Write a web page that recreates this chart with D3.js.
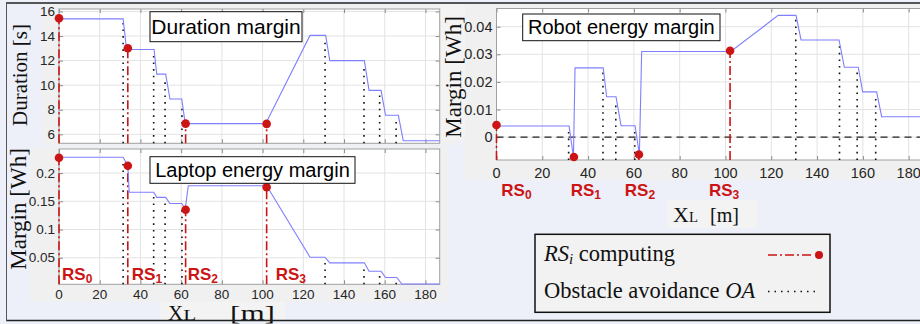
<!DOCTYPE html>
<html>
<head>
<meta charset="utf-8">
<script src="https://cdn.jsdelivr.net/npm/d3@7/dist/d3.min.js"></script>
<style>
  body { margin: 0; background: #edf0f8; }
  svg { display: block; }
</style>
</head>
<body>
<div id="chart"></div>
<script>
// x positions along the path (m)
const xTicks = [0, 20, 40, 60, 80, 100, 120, 140, 160, 180];
const rsX = [0, 33.8, 62.2, 102];
const oaX = [31.5, 46.5, 52.1, 60.4, 130.7, 149.8, 157.5, 165.6];

// duration margin [s]
const durX = [0, 31.5, 33.2, 46.7, 48, 52.4, 54.5, 60.3, 62, 101.5, 123.3, 131, 133, 150, 152.3, 158.2, 160.4, 166.7, 169.1, 187];
const durY = [15.4, 15.4, 12.9, 12.9, 10.9, 10.9, 8.87, 8.87, 6.87, 6.87, 14.05, 14.05, 12.0, 12.0, 9.58, 9.58, 7.55, 7.55, 5.48, 5.48];
const durRs = [15.45, 13.0, 6.87, 6.85];
const durTicks = [6, 8, 10, 12, 14, 16];

// laptop energy margin [Wh]
const lapX = [0, 31.5, 33.8, 34.5, 46.5, 48, 52.4, 54.5, 60.3, 62, 63.5, 102, 123.3, 130.6, 133, 150, 152.3, 158.2, 160.4, 165.9, 168.4, 187];
const lapY = [0.228, 0.228, 0.213, 0.166, 0.166, 0.157, 0.157, 0.146, 0.146, 0.136, 0.1775, 0.1775, 0.051, 0.051, 0.041, 0.041, 0.026, 0.026, 0.015, 0.015, 0.0035, 0.0035];
const lapRs = [0.227, 0.213, 0.135, 0.175];
const lapTicks = [0.05, 0.1, 0.15, 0.2];

// robot energy margin [Wh]
const robX = [0, 31.7, 33.6, 34.3, 46.6, 48.1, 52.2, 54.4, 60.5, 62.4, 63.4, 102.3, 123, 130.8, 133, 149.6, 151.9, 158, 159.9, 166, 168.2, 187];
const robY = [0.004, 0.004, -0.0072, 0.0251, 0.0251, 0.0146, 0.0146, 0.0041, 0.0041, -0.0063, 0.031, 0.031, 0.0441, 0.0441, 0.0352, 0.0352, 0.0253, 0.0253, 0.0164, 0.0164, 0.0074, 0.0074];
const robRs = [0.0044, -0.0072, -0.0063, 0.0313];
const robTicks = [0, 0.01, 0.02, 0.03, 0.04];

const W = 920, H = 324;
const SANS = "'Liberation Sans', Arial, sans-serif";
const SERIF = "'Liberation Serif', 'Times New Roman', serif";
const RED = '#cc1414', BLUE = '#7f7fff';

const svg = d3.select('#chart').append('svg').attr('width', W).attr('height', H);

// figure backgrounds (pasted matlab figures)
svg.append('rect').attr('x', 0).attr('y', 0).attr('width', W).attr('height', H).attr('fill', '#edf0f8');
svg.append('rect').attr('x', 42).attr('y', 4).attr('width', 416).attr('height', 141).attr('fill', '#f0f0f0');
svg.append('rect').attr('x', 30).attr('y', 147).attr('width', 418).attr('height', 155).attr('fill', '#f0f0f0');
svg.append('rect').attr('x', 465).attr('y', 4).attr('width', 455).attr('height', 176).attr('fill', '#f0f0f0');
svg.append('rect').attr('x', 441).attr('y', 4).attr('width', 24).attr('height', 136).attr('fill', '#f3f3f3');
svg.append('rect').attr('x', 667).attr('y', 200).attr('width', 90).attr('height', 28).attr('fill', '#f3f3f3');
svg.append('rect').attr('x', 160).attr('y', 302).attr('width', 125).attr('height', 18).attr('fill', '#f3f3f3');

function interp(xs, ys, x) {
  for (let i = 1; i < xs.length; i++) {
    if (x <= xs[i]) {
      const t = (x - xs[i - 1]) / (xs[i] - xs[i - 1]);
      return ys[i - 1] + t * (ys[i] - ys[i - 1]);
    }
  }
  return ys[ys.length - 1];
}

function drawPanel(p) {
  const x = d3.scaleLinear().domain([0, 187]).range(p.xRange);
  const y = d3.scaleLinear().domain(p.yDomain).range(p.yRange);
  const [x0, x1] = p.xRange, [y0, y1] = p.yRange; // y0 bottom, y1 top
  const g = svg.append('g');

  g.append('rect').attr('x', x0).attr('y', y1).attr('width', x1 - x0).attr('height', y0 - y1).attr('fill', '#fff');

  // grid
  g.selectAll('.gx').data(xTicks).enter().append('line')
    .attr('x1', d => x(d)).attr('x2', d => x(d)).attr('y1', y1).attr('y2', y0)
    .attr('stroke', '#e3e3e3').attr('stroke-width', 1);
  g.selectAll('.gy').data(p.yTicks).enter().append('line')
    .attr('x1', x0).attr('x2', x1).attr('y1', d => y(d)).attr('y2', d => y(d))
    .attr('stroke', '#e3e3e3').attr('stroke-width', 1);

  // inside ticks on all sides
  const tl = 4;
  g.append('g').attr('transform', `translate(0,${y0})`)
    .call(d3.axisTop(x).tickValues(xTicks).tickSize(tl).tickFormat(''))
    .call(a => a.select('.domain').remove());
  g.append('g').attr('transform', `translate(0,${y1})`)
    .call(d3.axisBottom(x).tickValues(xTicks).tickSize(tl).tickFormat(''))
    .call(a => a.select('.domain').remove());
  g.append('g').attr('transform', `translate(${x0},0)`)
    .call(d3.axisRight(y).tickValues(p.yTicks).tickSize(tl).tickFormat(''))
    .call(a => a.select('.domain').remove());
  g.append('g').attr('transform', `translate(${x1},0)`)
    .call(d3.axisLeft(y).tickValues(p.yTicks).tickSize(tl).tickFormat(''))
    .call(a => a.select('.domain').remove());
  g.selectAll('.tick line').attr('stroke', '#8c8c8c');

  g.append('rect').attr('x', x0).attr('y', y1).attr('width', x1 - x0).attr('height', y0 - y1)
    .attr('fill', 'none').attr('stroke', '#a0a0a0').attr('stroke-width', 1);

  // tick labels
  g.selectAll('.yl').data(p.yTicks).enter().append('text')
    .attr('x', x0 - 4).attr('y', d => y(d)).attr('dy', '0.35em')
    .attr('text-anchor', 'end').attr('font-family', SANS).attr('font-size', p.tickFs)
    .attr('fill', '#262626').text(p.yFmt);
  if (p.xLabels) {
    g.selectAll('.xl').data(xTicks).enter().append('text')
      .attr('x', d => x(d)).attr('y', y0 + p.xLabelDy)
      .attr('text-anchor', 'middle').attr('font-family', SANS).attr('font-size', p.tickFs)
      .attr('fill', '#262626').text(d => d);
  }

  if (p.zeroLine) {
    g.append('line').attr('x1', x0).attr('x2', x1).attr('y1', y(0)).attr('y2', y(0))
      .attr('stroke', '#222').attr('stroke-width', 1.3).attr('stroke-dasharray', '7,5');
  }

  // obstacle avoidance lines
  g.selectAll('.oa').data(oaX).enter().append('line')
    .attr('x1', d => x(d)).attr('x2', d => x(d)).attr('y1', y0)
    .attr('y2', d => y(interp(p.xs, p.ys, d)) + 4)
    .attr('stroke', '#111').attr('stroke-width', 1.6).attr('stroke-dasharray', '1.6,5');

  // RS lines
  g.selectAll('.rs').data(rsX).enter().append('line')
    .attr('x1', d => x(d)).attr('x2', d => x(d)).attr('y1', y0)
    .attr('y2', (d, i) => y(p.rs[i]))
    .attr('stroke', RED).attr('stroke-width', 1.6).attr('stroke-dasharray', '9,3,2,3');

  // margin line
  const line = d3.line().x(d => x(d[0])).y(d => y(d[1]));
  g.append('path').datum(p.xs.map((v, i) => [v, p.ys[i]]))
    .attr('d', line).attr('fill', 'none').attr('stroke', BLUE).attr('stroke-width', 1.1);

  g.selectAll('.pt').data(rsX).enter().append('circle')
    .attr('cx', d => x(d)).attr('cy', (d, i) => y(p.rs[i])).attr('r', 4.3)
    .attr('fill', RED);

  // title box
  const t = p.title;
  g.append('rect').attr('x', t.x).attr('y', t.y).attr('width', t.w).attr('height', t.h)
    .attr('fill', '#fff').attr('stroke', '#111').attr('stroke-width', 1);
  g.append('text').attr('x', t.x + t.w / 2).attr('y', t.y + t.h / 2).attr('dy', '0.35em')
    .attr('text-anchor', 'middle').attr('font-family', SANS).attr('font-size', t.fs)
    .attr('fill', '#000').text(t.text);

  return { x, y, g };
}

const durPanel = drawPanel({
  xRange: [59, 439.7], yDomain: [5.27, 16.2], yRange: [143.3, 9],
  yTicks: durTicks, yFmt: d => d, tickFs: 13.5, xLabels: false,
  xs: durX, ys: durY, rs: durRs,
  title: { x: 150, y: 11.7, w: 152, h: 30, fs: 21, text: 'Duration margin' }
});

const lapPanel = drawPanel({
  xRange: [59, 439.7], yDomain: [0.003, 0.2426], yRange: [284.3, 149],
  yTicks: lapTicks, yFmt: d => d, tickFs: 13.5, xLabels: true, xLabelDy: 15,
  xs: lapX, ys: lapY, rs: lapRs,
  title: { x: 150, y: 156.7, w: 205, h: 26.6, fs: 20, text: 'Laptop energy margin' }
});

const robPanel = drawPanel({
  xRange: [496.5, 924.7], yDomain: [-0.0083, 0.0466], yRange: [160, 8.5],
  yTicks: robTicks, yFmt: d => d, tickFs: 14.5, xLabels: true, xLabelDy: 18,
  xs: robX, ys: robY, rs: robRs, zeroLine: true,
  title: { x: 522.7, y: 14, w: 197.3, h: 26.7, fs: 20, text: 'Robot energy margin' }
});

// RS labels
function rsLabel(px, py, i, anchor) {
  const t = svg.append('text').attr('x', px).attr('y', py).attr('text-anchor', anchor)
    .attr('font-family', SANS).attr('font-weight', 'bold').attr('font-size', 17).attr('fill', RED);
  t.append('tspan').text('RS');
  t.append('tspan').attr('font-size', 12).attr('dy', 3).text(i);
}
const lapOff = [3, 4, 2, 9];
rsX.forEach((d, i) => rsLabel(lapPanel.x(d) + lapOff[i], 280, i, 'start'));
const robOff = [20, 12, 1, -6];
rsX.forEach((d, i) => rsLabel(robPanel.x(d) + robOff[i], 196, i, 'middle'));

// axis titles
function yTitle(cx, cy, fs, txt) {
  svg.append('text').attr('transform', `translate(${cx},${cy}) rotate(-90)`)
    .attr('text-anchor', 'middle').attr('dy', '0.35em')
    .attr('font-family', SERIF).attr('font-size', fs).attr('fill', '#111').text(txt);
}
yTitle(20, 75, 21, 'Duration [s]');
yTitle(18, 209, 23, 'Margin [Wh]');
yTitle(453, 77, 23, 'Margin [Wh]');

// X_L [m]; the left one is stretched wider in the original
function xTitle(x0, by, fs, lW, gap, mW) {
  const t = svg.append('text').attr('x', x0).attr('y', by)
    .attr('font-family', SERIF).attr('font-size', fs).attr('fill', '#111');
  t.append('tspan').text('X');
  t.append('tspan').attr('font-size', fs * 0.68).attr('textLength', lW)
    .attr('lengthAdjust', 'spacingAndGlyphs').text('L');
  svg.append('text').attr('x', x0 + gap).attr('y', by)
    .attr('font-family', SERIF).attr('font-size', fs).attr('fill', '#111')
    .attr('textLength', mW).attr('lengthAdjust', 'spacingAndGlyphs').text('[m]');
}
xTitle(168, 320, 21, 13, 62, 45);
xTitle(673, 222, 22, 9, 37, 29);

// legend
const lg = svg.append('g');
lg.append('rect').attr('x', 535).attr('y', 234.3).attr('width', 295).attr('height', 78)
  .attr('fill', '#f2f2f2').attr('stroke', '#111').attr('stroke-width', 1.5);
const l1 = lg.append('text').attr('x', 544).attr('y', 261).attr('font-family', SERIF)
  .attr('font-size', 22.5).attr('fill', '#111');
l1.append('tspan').attr('font-style', 'italic').text('RS');
l1.append('tspan').attr('font-style', 'italic').attr('font-size', 15).attr('dy', 3).text('i');
l1.append('tspan').attr('dy', -3).text(' computing');
const l2 = lg.append('text').attr('x', 544).attr('y', 298).attr('font-family', SERIF)
  .attr('font-size', 22.5).attr('fill', '#111');
l2.append('tspan').text('Obstacle avoidance ');
l2.append('tspan').attr('font-style', 'italic').text('OA');
lg.append('line').attr('x1', 768).attr('x2', 814).attr('y1', 255).attr('y2', 255)
  .attr('stroke', RED).attr('stroke-width', 1.6).attr('stroke-dasharray', '9,3,2,3');
lg.append('circle').attr('cx', 819).attr('cy', 255).attr('r', 4).attr('fill', RED);
lg.append('line').attr('x1', 768).attr('x2', 820).attr('y1', 291.5).attr('y2', 291.5)
  .attr('stroke', '#111').attr('stroke-width', 1.3).attr('stroke-dasharray', '1.5,5');

// outer frame lines
svg.append('line').attr('x1', 6).attr('x2', W).attr('y1', 3).attr('y2', 3).attr('stroke', '#222').attr('stroke-width', 1.5);
svg.append('line').attr('x1', 6).attr('x2', W).attr('y1', 320.5).attr('y2', 320.5).attr('stroke', '#222').attr('stroke-width', 1.5);
svg.append('line').attr('x1', 6.5).attr('x2', 6.5).attr('y1', 3).attr('y2', 321).attr('stroke', '#555').attr('stroke-width', 1);
</script>
</body>
</html>
